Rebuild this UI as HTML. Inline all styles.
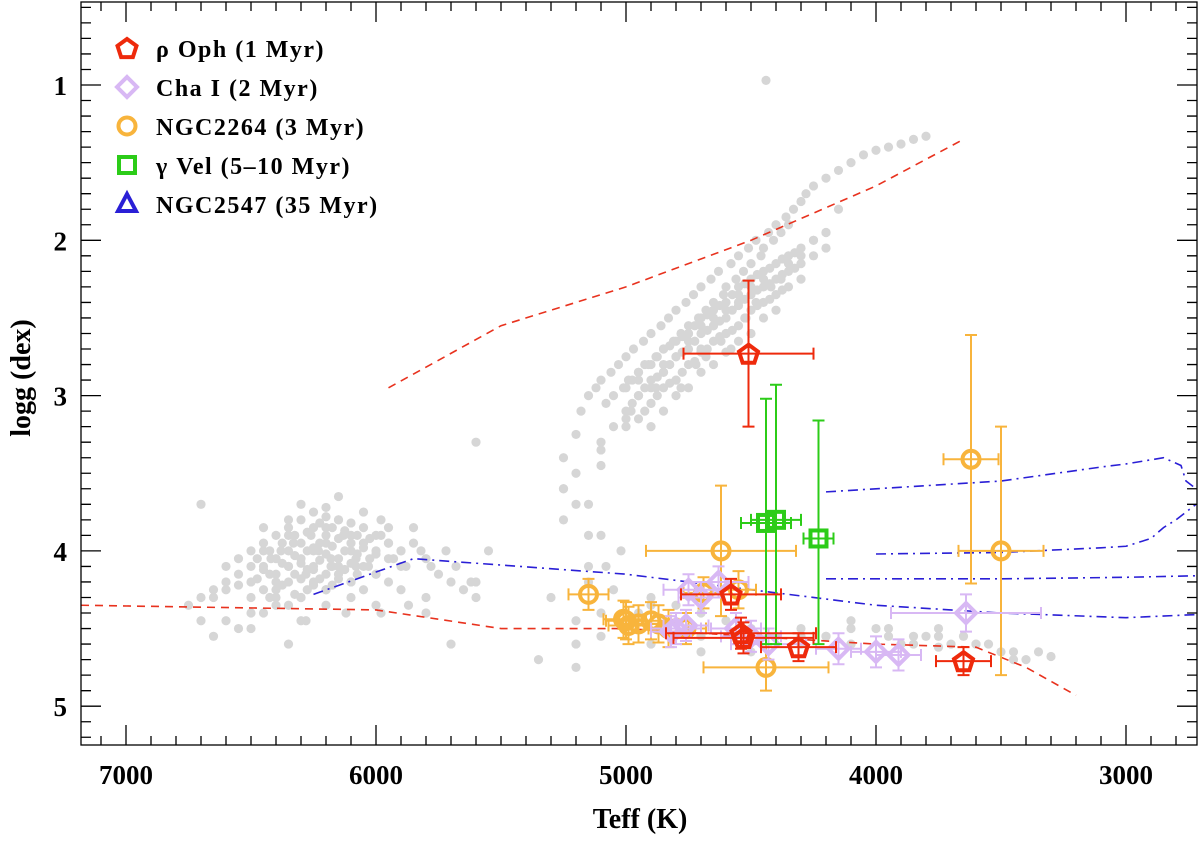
<!DOCTYPE html>
<html><head><meta charset="utf-8"><style>
body{margin:0;background:#fff}
svg text{font-family:"Liberation Serif",serif;font-weight:bold;fill:#000}
</style></head><body>
<svg id="chart" width="1200" height="837" xmlns="http://www.w3.org/2000/svg"></svg>
<script>
// ---- data ----
const fieldT=[6750,6700,6650,6600,6550,6500,6450,6420,6400,6380,6350,6330,6300,6280,6260,6250,6230,6200,6180,6150,6130,6100,6080,6050,6030,6000,5980,5950,5930,5900,5880,5850,5820,5800,5780,5750,5720,5700,5680,5650,5620,5600,6600,6500,6400,6300,6200,6100,6000,5900,5800,6450,6350,6250,6150,6050,5950,6550,6300,6200,6100,6000,6400,6250,6150,6050,6350,6200,6100,6700,6650,6500,6350,6280,6120,5980,5870,6300,6200,6150,5980,6450,6250,6180,6080,
5250,5200,5180,5150,5120,5100,5080,5060,5050,5030,5010,5000,4990,4970,4950,4930,4910,4900,4880,4860,4850,4830,4810,4800,4780,4760,4750,4730,4710,4700,4680,4660,4650,4630,4610,4600,4580,4560,4550,4530,4510,4500,4480,4460,4450,4430,4410,4400,4380,4360,4350,4330,4300,4280,4250,4200,4150,4100,4050,4000,3950,3900,3850,3800,5000,4950,4900,4850,4800,4750,4700,4650,4600,4550,4500,4950,4850,4750,4650,4550,5050,4900,4800,4700,4600,4450,4350,4250,4780,4680,4580,4480,4380,5100,4980,4880,4720,4620,4520,4420,4300,4200,4150,
5250,5150,5100,5080,5050,5020,4950,4900,4800,4700,4600,4500,4400,4300,4200,4100,4000,3900,3800,3700,3600,3500,3400,3350,5300,5200,5150,4100,3950,3850,3750,3650,3550,3450,5600,5550,5850,6700,5600,4440,5700,5350,5800];
const fieldG=[4.35,4.3,4.25,4.2,4.15,4.1,4.12,4.05,4.2,4.0,4.1,3.95,4.05,4.15,3.9,4.1,4.0,3.95,4.05,4.1,3.9,4.0,4.05,3.95,4.1,4.0,3.9,3.95,4.05,4.0,4.1,3.95,4.0,4.05,4.1,4.15,4.0,4.2,4.1,4.25,4.2,4.3,4.45,4.4,4.35,4.3,4.25,4.2,4.15,4.25,4.3,3.85,3.8,3.75,3.8,3.75,3.85,4.5,4.45,4.35,4.3,4.35,4.25,4.2,4.15,4.25,3.9,3.85,3.9,4.45,4.55,4.5,4.6,4.45,4.4,4.4,4.35,3.7,3.72,3.65,3.8,4.0,4.0,4.1,4.1,
3.4,3.25,3.1,3.0,2.95,2.9,3.05,2.85,3.0,2.8,2.95,2.75,2.9,2.7,2.85,2.65,2.8,2.6,2.75,2.55,2.7,2.5,2.65,2.45,2.6,2.4,2.55,2.35,2.5,2.3,2.45,2.25,2.4,2.2,2.35,2.3,2.15,2.25,2.1,2.2,2.05,2.15,2.0,2.1,2.05,1.95,2.0,1.9,1.95,1.85,1.9,1.8,1.75,1.7,1.65,1.6,1.55,1.5,1.45,1.42,1.4,1.38,1.35,1.33,3.15,3.0,2.95,2.85,2.75,2.65,2.55,2.5,2.45,2.35,2.3,2.9,2.8,2.6,2.55,2.4,3.2,3.05,2.9,2.7,2.6,2.25,2.15,2.0,2.95,2.75,2.7,2.4,2.25,3.3,3.1,2.95,2.8,2.65,2.5,2.3,2.1,1.95,1.8,
3.6,3.7,3.9,4.1,4.25,4.0,4.4,4.3,4.35,4.4,4.45,4.5,4.55,4.6,4.55,4.6,4.5,4.6,4.55,4.6,4.6,4.65,4.7,4.65,4.3,4.75,4.2,4.45,4.5,4.55,4.5,4.55,4.6,4.7,4.2,4.0,3.85,3.7,3.3,0.97,4.6,4.7,4.4];
// additional field stars, rows of [Teff, [logg values]]
const fieldRows=[
[5000,[2.95,3.1,3.2]],[4975,[2.9,3.05]],[4950,[2.85,3.0,3.15]],[4925,[2.8,2.95,3.1]],[4900,[2.8,2.9,3.05,3.2]],
[4875,[2.75,2.88,3.0]],[4850,[2.7,2.85,2.95,3.1]],[4825,[2.68,2.8,2.92]],[4800,[2.65,2.75,2.9,3.0]],
[4775,[2.62,2.72,2.85]],[4750,[2.6,2.7,2.8,2.95]],[4725,[2.55,2.65,2.78]],[4700,[2.5,2.6,2.72,2.85]],
[4675,[2.48,2.58,2.7]],[4650,[2.45,2.55,2.65,2.8]],[4625,[2.42,2.52,2.62]],[4600,[2.4,2.5,2.6,2.72]],
[4575,[2.35,2.45,2.58]],[4550,[2.3,2.42,2.55,2.65]],[4525,[2.28,2.38,2.5]],[4500,[2.25,2.35,2.45,2.6]],
[4475,[2.22,2.32,2.42]],[4450,[2.2,2.3,2.4,2.5]],[4425,[2.18,2.28,2.38]],[4400,[2.15,2.25,2.35,2.45]],
[4375,[2.12,2.22,2.32]],[4350,[2.1,2.2,2.3]],[4325,[2.08,2.18]],[4300,[2.05,2.15,2.25]],[4250,[2.0,2.1]],[4200,[1.95,2.05]],
[6500,[4.0,4.2,4.3]],[6475,[4.05,4.18]],[6450,[3.95,4.1,4.25,4.4]],[6425,[4.0,4.15,4.3]],[6400,[3.9,4.05,4.15,4.3]],
[6375,[3.95,4.08,4.22]],[6350,[3.85,4.0,4.1,4.2,4.35]],[6325,[3.9,4.03,4.15,4.28]],[6300,[3.8,3.95,4.08,4.18,4.3]],
[6275,[3.88,4.0,4.12,4.25]],[6250,[3.85,3.98,4.12,4.22]],[6225,[3.82,3.95,4.06,4.18]],[6200,[3.78,3.9,4.02,4.15,4.25]],
[6175,[3.85,3.97,4.1,4.22]],[6150,[3.8,3.92,4.05,4.18]],[6125,[3.87,4.0,4.12]],[6100,[3.82,3.95,4.08,4.2]],
[6075,[3.9,4.02,4.15]],[6050,[3.85,3.98,4.1]],[6025,[3.92,4.05]],[6000,[3.9,4.02,4.15]],[5950,[3.95,4.05,4.2]],[5900,[4.0,4.1]],
[6600,[4.1,4.25]],[6650,[4.3]],[6550,[4.05,4.22]],
[5200,[4.45,4.6]],[5100,[4.4,4.55]],[4900,[4.35,4.6]],[4700,[4.55,4.65]],[4500,[4.5,4.65]],[4300,[4.5,4.55]],
[4200,[4.55]],[4100,[4.5,4.6]],[3950,[4.55]],[3850,[4.6]],[3750,[4.55,4.62]],[3600,[4.6]],[3450,[4.65]],[3300,[4.68]],
[5250,[3.6,3.8]],[5200,[3.5,3.7]],[5150,[3.9,4.1]],[5100,[3.35,3.45]]];

const rhoT=[4510,4580,4540,4530,4310,3650];
const rhoG=[2.73,4.28,4.53,4.56,4.62,4.71];
const rhoEx=[260,200,300,280,150,110];
const rhoEy=[0.47,0.1,0.1,0.1,0.09,0.09];

const chaT=[4750,4700,4630,4560,4500,4800,4760,4150,4000,3910,3640,4430,4820];
const chaG=[4.25,4.3,4.2,4.5,4.55,4.5,4.48,4.63,4.65,4.67,4.4,4.6,4.52];
const chaEx=[100,90,120,100,120,100,90,90,100,90,300,150,80];
const chaEy=[0.1,0.1,0.1,0.1,0.1,0.1,0.1,0.1,0.1,0.1,0.12,0.1,0.1];

const ngcT=[5150,5000,4990,4950,4900,4870,4830,4760,4620,4440,3620,3500,4690,4550,5010];
const ngcG=[4.28,4.45,4.48,4.47,4.45,4.47,4.5,4.5,4.0,4.75,3.41,4.0,4.27,4.25,4.44];
const ngcEx=[80,80,80,80,80,80,80,80,300,250,110,170,80,70,80];
const ngcEy=[0.1,0.12,0.12,0.12,0.12,0.12,0.12,0.1,0.42,0.15,0.8,0.8,0.1,0.12,0.12];

const velT=[4440,4400,4230];
const velG=[3.82,3.8,3.92];
const velEx=[100,100,60];
const velEyUp=[0.8,0.87,0.76];
const velEyDn=[0.78,0.8,0.68];

const isoUpT=[5950,5500,5000,4500,4000,3650];
const isoUpG=[2.95,2.55,2.3,2.0,1.65,1.35];
const isoLowT=[7180,6000,5500,5000,4500,4000,3600,3400,3200];
const isoLowG=[4.35,4.38,4.5,4.5,4.55,4.6,4.62,4.75,4.93];
const b1T=[6250,5850,5000,4500,4000,3500,3000,2720];
const b1G=[4.28,4.05,4.15,4.25,4.35,4.4,4.43,4.41];
const b2T=[4200,3800,3500,3100,3000,2850,2780,2760,2720];
const b2G=[3.62,3.58,3.55,3.46,3.44,3.4,3.45,3.55,3.6];
const b3T=[4000,3500,3100,3000,2900,2850,2800,2720];
const b3G=[4.02,4.01,3.98,3.97,3.92,3.85,3.8,3.7];
const b4T=[4200,3500,3000,2720];
const b4G=[4.18,4.18,4.17,4.16];

const xTicks=[7000,6000,5000,4000,3000];
const yTicks=[1,2,3,4,5];

// ---- axes ----
const L=81,R=1197,T=2,B=745;
const X=t=>126+(7000-t)*0.25;
const Y=g=>85+(g-1)*155.3;
const svg=document.getElementById('chart');
const NS='http://www.w3.org/2000/svg';
function mk(tag,at,parent){const e=document.createElementNS(NS,tag);for(const k in at)e.setAttribute(k,at[k]);(parent||svg).appendChild(e);return e;}

const clip=mk('clipPath',{id:'pc'});mk('rect',{x:L,y:T,width:R-L,height:B-T},clip);
const plot=mk('g',{'clip-path':'url(#pc)'});



// field stars
const fg=mk('g',{fill:'#d6d6d6'},plot);


function star(t,g){const c=mk('circle',{cx:X(t),cy:Y(g),r:4.6},fg);

}
fieldT.forEach((t,i)=>star(t,fieldG[i]));
fieldRows.forEach(r=>r[1].forEach(g=>star(r[0],g)));

function line(ts,gs,color,dash,name){const p=mk('polyline',{points:ts.map((t,i)=>X(t)+','+Y(gs[i])).join(' '),fill:'none',stroke:color,'stroke-width':1.6,'stroke-dasharray':dash},plot);

}
line(isoUpT,isoUpG,'#e8321e','8 6','isochrone-upper-red');
line(isoLowT,isoLowG,'#e8321e','8 6','isochrone-lower-red');
line(b1T,b1G,'#2a1fd6','10 5 2 5','isochrone-blue-1');
line(b2T,b2G,'#2a1fd6','10 5 2 5','isochrone-blue-2');
line(b3T,b3G,'#2a1fd6','10 5 2 5','isochrone-blue-3');
line(b4T,b4G,'#2a1fd6','10 5 2 5','isochrone-blue-4');

function errbar(g,t,gv,ex,eyU,eyD,color,w){
 const x=X(t),y=Y(gv),x1=X(t+ex),x2=X(t-ex),y1=Y(gv-eyU),y2=Y(gv+eyD);
 mk('path',{d:`M${x1},${y}H${x2}M${x1},${y-6}V${y+6}M${x2},${y-6}V${y+6}M${x},${y1}V${y2}M${x-6},${y1}H${x+6}M${x-6},${y2}H${x+6}`,stroke:color,'stroke-width':w,fill:'none'},g);}
function shape(g,kind,x,y,color){
 let e;
 if(kind==='pent'){const pts=[];for(let k=0;k<5;k++){const a=-Math.PI/2+k*2*Math.PI/5;pts.push((x+10*Math.cos(a))+','+(y+1+10*Math.sin(a)));}e=mk('polygon',{points:pts.join(' ')},g);}
 else if(kind==='diam')e=mk('polygon',{points:`${x},${y-10} ${x+10},${y} ${x},${y+10} ${x-10},${y}`},g);
 else if(kind==='circ')e=mk('circle',{cx:x,cy:y,r:8.5},g);
 else if(kind==='sq')e=mk('rect',{x:x-8,y:y-8,width:16,height:16},g);
 else e=mk('polygon',{points:`${x},${y-10} ${x+9},${y+7} ${x-9},${y+7}`},g);
 e.setAttribute('fill','none');e.setAttribute('stroke',color);e.setAttribute('stroke-width',4);return e;}
function series(name,ts,gs,ex,eyU,eyD,color,kind){
 const g=mk('g',{},plot);
 
 
 ts.forEach((t,i)=>{errbar(g,t,gs[i],ex[i],eyU[i],eyD[i],color,2);
 const m=shape(g,kind,X(t),Y(gs[i]),color);
 
 });}
series('ngc2264-series',ngcT,ngcG,ngcEx,ngcEy,ngcEy,'#f8b43c','circ');
series('cha-i-series',chaT,chaG,chaEx,chaEy,chaEy,'#d8b8f4','diam');
series('gamma-vel-series',velT,velG,velEx,velEyUp,velEyDn,'#2ccc18','sq');
series('rho-oph-series',rhoT,rhoG,rhoEx,rhoEy,rhoEy,'#ee2a0c','pent');

// frame + ticks
mk('rect',{x:L,y:T,width:R-L,height:B-T,fill:'none',stroke:'#000','stroke-width':1.3});
const tk=mk('g',{stroke:'#000','stroke-width':1.3});


let d='';
for(let t=7100;t>=2800;t-=100){const x=X(t),len=t%1000===0?20:9;d+=`M${x},${B}v${-len}M${x},${T}v${len}`;}
for(let g=0.5;g<=5.21;g+=0.1){const y=Y(g),len=Math.abs(g-Math.round(g))<0.01?20:10;d+=`M${L},${y}h${len}M${R},${y}h${-len}`;}
mk('path',{d},tk);
xTicks.forEach(t=>{const e=mk('text',{x:X(t),y:784,'text-anchor':'middle','font-size':27});e.textContent=t;

});
yTicks.forEach(g=>{const e=mk('text',{x:67,y:Y(g)+10,'text-anchor':'end','font-size':27});e.textContent=g;

});
const xt=mk('text',{x:640,y:828,'text-anchor':'middle','font-size':28});xt.textContent='Teff (K)';


const yt=mk('text',{x:30,y:378,'text-anchor':'middle','font-size':28,transform:'rotate(-90 30 378)'});yt.textContent='logg (dex)';



// legend
const legLabels=['ρ Oph (1 Myr)','Cha I (2 Myr)','NGC2264 (3 Myr)','γ Vel (5–10 Myr)','NGC2547 (35 Myr)'];
const legColors=['#ee2a0c','#d8b8f4','#f8b43c','#2ccc18','#2a1fd6'];
const legKinds=['pent','diam','circ','sq','tri'];
const lg=mk('g',{});


legLabels.forEach((s,i)=>{const y=48+i*39;const eg=mk('g',{},lg);


shape(eg,legKinds[i],127,y,legColors[i]);
const t=mk('text',{x:156,y:y+9,'font-size':24,'letter-spacing':'1.5'},eg);t.textContent=s;});
</script>
</body></html>
